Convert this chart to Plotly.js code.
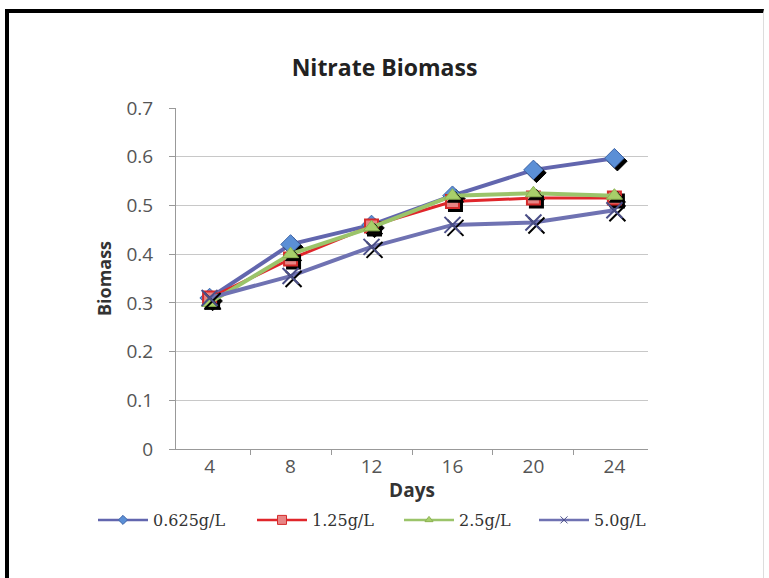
<!DOCTYPE html>
<html>
<head>
<meta charset="utf-8">
<script src="https://cdn.plot.ly/plotly-3.0.1.min.js"></script>
<style>
  html, body { margin: 0; padding: 0; background: #fff; }
  #chart { width: 769px; height: 578px; }
  #frame { position: absolute; left: 5px; top: 9px; width: 754px; height: 580px;
           border-top: 4px solid #000; border-left: 4px solid #000; border-right: 1px solid #ddd;
           pointer-events: none; }
  #chart .scatterlayer .points path { filter: drop-shadow(3px 3px 0px #000); }
</style>
</head>
<body>
<div id="chart"></div>
<div id="frame"></div>
<script>
const days = ["4", "8", "12", "16", "20", "24"];
const s0625 = [0.31, 0.42, 0.46, 0.52, 0.573, 0.597];
const s125  = [0.31, 0.39, 0.458, 0.508, 0.515, 0.515];
const s25   = [0.30, 0.40, 0.455, 0.52, 0.525, 0.52];
const s50   = [0.31, 0.355, 0.415, 0.46, 0.465, 0.49];
const seriesNames = ["0.625g/L", "1.25g/L", "2.5g/L", "5.0g/L"];
const yTicks = [0, 0.1, 0.2, 0.3, 0.4, 0.5, 0.6, 0.7];

const styles = [
  { line: "#6266AE", lw: 4, sym: "diamond", size: 15, fill: "#5B8FD6", edge: "#3F65A8", ew: 1 },
  { line: "#E0262B", lw: 3, sym: "square", size: 13, fill: "#E88585", edge: "#D52B2B", ew: 2 },
  { line: "#9BC46A", lw: 4, sym: "triangle-up", size: 14, fill: "#A8CF6A", edge: "#8CB352", ew: 1 },
  { line: "#6F72B2", lw: 4, sym: "x-thin", size: 16, fill: "#4B4F88", edge: "#4B4F88", ew: 2 }
];
const dataSets = [s0625, s125, s25, s50];
const legendIds = ["legend", "legend2", "legend3", "legend4"];
const legendLeft = [93, 252, 399, 534];   // container px, left edge of each legend entry

const traces = [];
dataSets.forEach((ys, i) => {
  const st = styles[i];
  traces.push({ x: days, y: ys, name: seriesNames[i], mode: "lines+markers", showlegend: false,
    line: { color: st.line, width: st.lw },
    marker: { symbol: st.sym, size: st.size, color: st.fill, line: { color: st.edge, width: st.ew } } });
});
// legend-only entries with small markers (as in the reference legend)
dataSets.forEach((ys, i) => {
  const st = styles[i];
  traces.push({ x: [null], y: [null], name: seriesNames[i], mode: "lines+markers", showlegend: true,
    legend: legendIds[i],
    line: { color: st.line, width: 2.5 },
    marker: { symbol: st.sym, size: i === 1 ? 9 : 7, color: st.fill, line: { color: st.edge, width: 1 } } });
});

const layout = {
  width: 769, height: 578,
  paper_bgcolor: "#fff", plot_bgcolor: "#fff",
  margin: { l: 176, r: 121, t: 108, b: 129 },
  title: { text: "<b>Nitrate Biomass</b>", x: 0.5, xref: "container", y: 1 - 68/578, yref: "container",
           yanchor: "middle", font: { family: "Open Sans, sans-serif", size: 23, color: "#222" } },
  xaxis: {
    type: "category", tickson: "boundaries", ticks: "outside", ticklen: 5, tickcolor: "#999",
    showline: true, linecolor: "#999", linewidth: 1, showgrid: false, ticklabelstandoff: 0,
    tickfont: { family: "Open Sans, sans-serif", size: 19, color: "#555" },
    title: { text: "<b>Days</b>", standoff: 5, font: { family: "Open Sans, sans-serif", size: 19, color: "#333" } }
  },
  yaxis: {
    range: [0, 0.7], tickvals: yTicks, ticktext: yTicks.map(v => String(v)),
    ticks: "outside", ticklen: 6, tickcolor: "#999", ticklabelstandoff: 12,
    showline: true, linecolor: "#999", linewidth: 1,
    showgrid: true, gridcolor: "#c8c8c8", gridwidth: 1, zeroline: false,
    tickfont: { family: "Open Sans, sans-serif", size: 19, color: "#555" },
    title: { text: "<b>Biomass</b>", standoff: 10, font: { family: "Open Sans, sans-serif", size: 18, color: "#333" } }
  },
  showlegend: true
};
legendIds.forEach((id, i) => {
  layout[id] = {
    orientation: "h", xref: "container", yref: "container",
    x: legendLeft[i] / 769, xanchor: "left", y: 1 - 520/578, yanchor: "middle",
    font: { family: "DejaVu Serif, serif", size: 16, color: "#333" },
    itemwidth: 50, bgcolor: "rgba(0,0,0,0)"
  };
});

Plotly.newPlot("chart", traces, layout, { displayModeBar: false, staticPlot: true });
</script>
</body>
</html>
